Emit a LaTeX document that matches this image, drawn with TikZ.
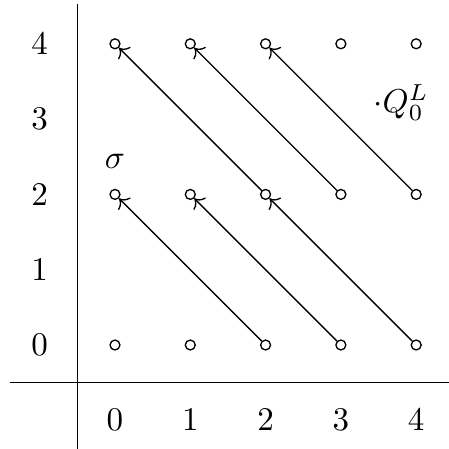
\documentclass[tikz,border=0pt]{standalone}
\usepackage{tikz}
\usetikzlibrary{arrows.meta,positioning}

\begin{document}
\begin{tikzpicture}[
  x=0.8cm,y=0.8cm,
  dot/.style={circle,draw,inner sep=0pt,minimum size=3pt},
  arr/.style={->,line width=.4pt}
]
\useasboundingbox (-1.527,-1.381) rectangle (4.436,4.582);
% axes
\coordinate (ytop) at (-0.5,4.53);
\coordinate (ybot) at (-0.5,-1.381);
\coordinate (xleft) at (-1.40,-0.5);
\coordinate (xright) at (4.436,-0.5);
\draw (ybot)--(ytop);
\draw (xleft)--(xright);
% row and column numbers
\node (r0) at (-1,0) {$0$};
\node (r1) at (-1,1) {$1$};
\node (r2) at (-1,2) {$2$};
\node (r3) at (-1,3) {$3$};
\node (r4) at (-1,4) {$4$};
\node (c0) at (0,-1) {$0$};
\node (c1) at (1,-1) {$1$};
\node (c2) at (2,-1) {$2$};
\node (c3) at (3,-1) {$3$};
\node (c4) at (4,-1) {$4$};
% classes
\node[dot] (p00) at (0,0) {};
\node[dot] (p10) at (1,0) {};
\node[dot] (p20) at (2,0) {};
\node[dot] (p30) at (3,0) {};
\node[dot] (p40) at (4,0) {};
\node[dot] (p02) at (0,2) {};
\node[dot] (p12) at (1,2) {};
\node[dot] (p22) at (2,2) {};
\node[dot] (p32) at (3,2) {};
\node[dot] (p42) at (4,2) {};
\node[dot] (p04) at (0,4) {};
\node[dot] (p14) at (1,4) {};
\node[dot] (p24) at (2,4) {};
\node[dot] (p34) at (3,4) {};
\node[dot] (p44) at (4,4) {};
\node (sigma) at (0,2.44) {$\sigma$};
\node (q) at (3.80,3.22) {$\cdot Q_0^L$};
% differentials
\draw[arr] (p20)--(p02);
\draw[arr] (p30)--(p12);
\draw[arr] (p40)--(p22);
\draw[arr] (p22)--(p04);
\draw[arr] (p32)--(p14);
\draw[arr] (p42)--(p24);
\end{tikzpicture}
\end{document}
